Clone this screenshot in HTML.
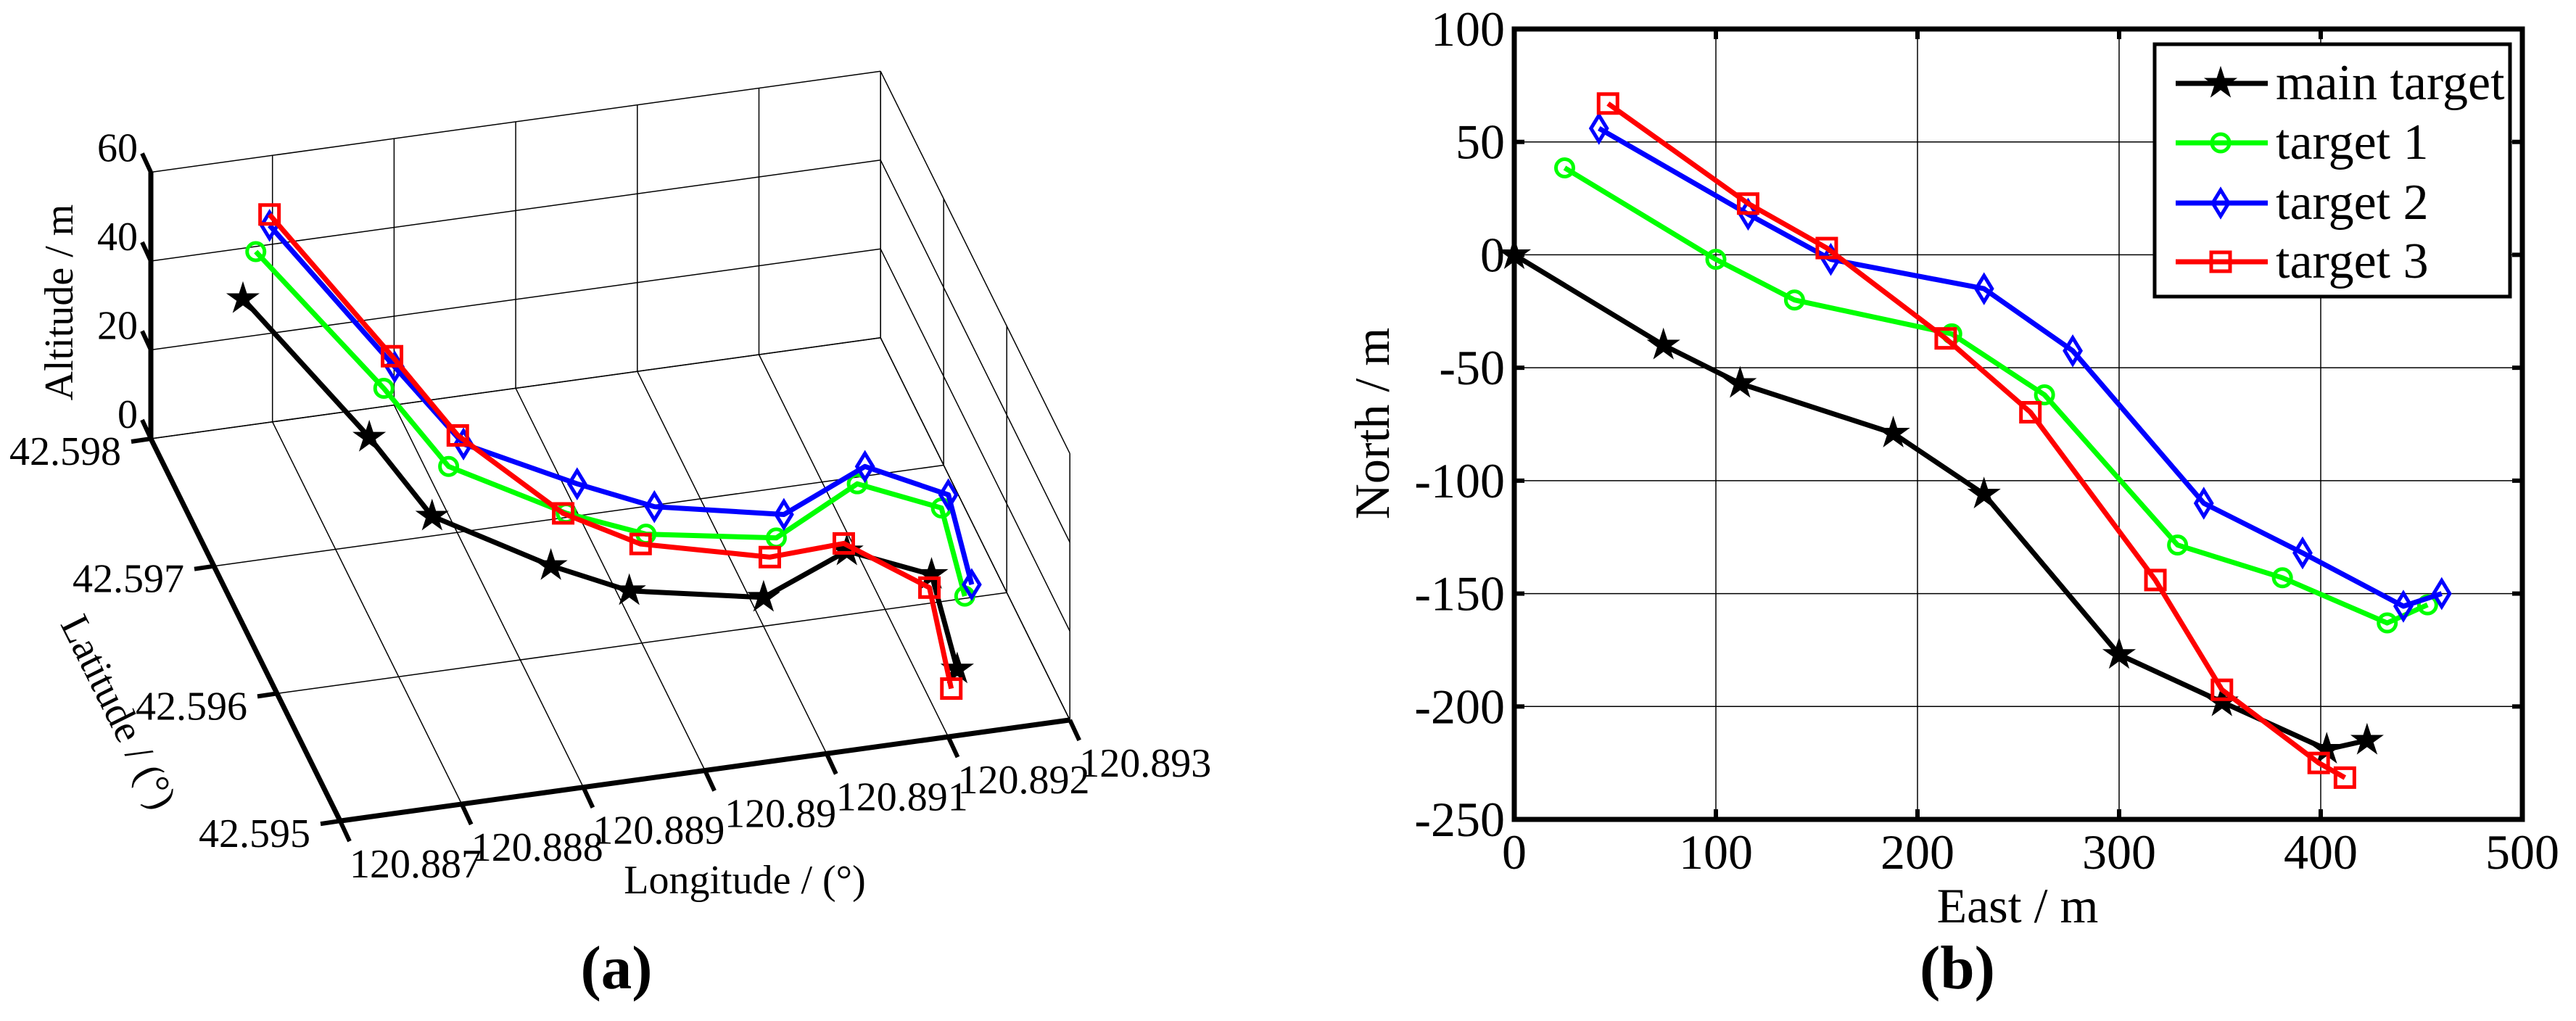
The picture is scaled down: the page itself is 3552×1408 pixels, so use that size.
<!DOCTYPE html>
<html><head><meta charset="utf-8"><style>
html,body{margin:0;padding:0;background:#fff;}
svg{display:block;}
svg text{font-family:"Liberation Serif","DejaVu Serif",serif;}
</style></head><body>
<svg id="fig" width="3552" height="1408" viewBox="0 0 3552 1408" xmlns="http://www.w3.org/2000/svg" font-family="'Liberation Serif', 'DejaVu Serif', serif">
<rect x="0" y="0" width="3552" height="1408" fill="#fff"/>
<g id="chartA"></g>
<g id="chartB"></g>
</svg>
<script>
// ---- data (shared tracks) ----
const seriesNames = ["main target","target 1","target 2","target 3"];
const eastMain = [0,74,112,188,233,300,351,403,423];
const northMain = [0,-40,-57,-79,-106,-177,-198,-219,-215];
const altMain = [50.1,26.1,11.1,2.4,1.8,15.9,29.6,27.5,4.3];
const eastT1 = [25,100,139,217,263,329,381,433,453];
const northT1 = [38.5,-2,-20,-35,-62,-128.5,-143,-163,-155];
const altT1 = [49.6,26.1,11.5,1.5,1.8,15.4,29.1,26.6,3.8];
const eastT2 = [42,116,157,233,277,342,391,441,460];
const northT2 = [56,18,-2,-15,-42.5,-110,-132,-155.6,-150];
const altT2 = [50.2,25,11.1,2.2,2.3,15.3,29.7,27.3,4.8];
const eastT3 = [46.5,116,155,214,256,318,351,399,412];
const northT3 = [67,22.7,3,-37,-69.7,-144,-192.6,-225,-231.5];
const altT3 = [49.6,26.2,11.8,2.1,1.9,15.6,29.9,26.3,4.7];
const xTicksB = [0,100,200,300,400,500];
const yTicksB = [100,50,0,-50,-100,-150,-200,-250];
const lonTicks = [120.887,120.888,120.889,120.89,120.891,120.892,120.893];
const latTicks = [42.598,42.597,42.596,42.595];
const altTicks = [0,20,40,60];
const LON0 = 120.887394, LAT0 = 42.5973;

const NS="http://www.w3.org/2000/svg";
const FF="'Liberation Serif', 'DejaVu Serif', serif";
function mk(tag, attrs, parent){const e=document.createElementNS(NS,tag);for(const k in attrs)e.setAttribute(k,attrs[k]);parent.appendChild(e);return e;}
const colors=["#000000","#00ff00","#0000ff","#ff0000"];
const markers=["star","circle","diamond","square"];
function marker(g,type,x,y,color){
  let e;
  if(type==="star"){
    let pts=[];for(let i=0;i<10;i++){const r=i%2?8:21;const a=-Math.PI/2+i*Math.PI/5;pts.push((x+r*Math.cos(a)).toFixed(1)+","+(y+r*Math.sin(a)).toFixed(1));}
    e=mk("polygon",{points:pts.join(" "),fill:color,stroke:color,"stroke-width":2},g);
  }else if(type==="circle"){
    e=mk("circle",{cx:x,cy:y,r:12,fill:"none",stroke:color,"stroke-width":5},g);
  }else if(type==="diamond"){
    e=mk("polygon",{points:`${x},${y-18} ${x+11},${y} ${x},${y+18} ${x-11},${y}`,fill:"none",stroke:color,"stroke-width":5},g);
  }else{
    e=mk("rect",{x:x-13,y:y-13,width:26,height:26,fill:"none",stroke:color,"stroke-width":5},g);
  }
  
  
  return e;
}
function text(g,str,x,y,size,anchor,extra){const t=mk("text",Object.assign({x:x,y:y,"font-size":size,"font-family":FF,"text-anchor":anchor||"middle",fill:"#000"},extra||{}),g);t.textContent=str;return t;}

const east=[eastMain,eastT1,eastT2,eastT3], north=[northMain,northT1,northT2,northT3], alt=[altMain,altT1,altT2,altT3];

// ---------- Chart B ----------
const B=document.getElementById("chartB");
const bx0=2088,bx1=3478,by0=40,by1=1130;
function xB(v){return bx0+(v-0)/500*(bx1-bx0);}
function yB(v){return by0+(100-v)/350*(by1-by0);}
xTicksB.forEach(v=>{const l=mk("line",{x1:xB(v),y1:by0,x2:xB(v),y2:by1,stroke:"#000","stroke-width":1.5},B);
  
  const t=text(B,String(v),xB(v),1198,68);
  mk("line",{x1:xB(v),y1:by1,x2:xB(v),y2:by1-14,stroke:"#000","stroke-width":6},B);
  mk("line",{x1:xB(v),y1:by0,x2:xB(v),y2:by0+14,stroke:"#000","stroke-width":6},B);});
yTicksB.forEach(v=>{const l=mk("line",{x1:bx0,y1:yB(v),x2:bx1,y2:yB(v),stroke:"#000","stroke-width":1.5},B);
  
  const t=text(B,String(v),2075,yB(v)+23,68,"end");
  mk("line",{x1:bx0,y1:yB(v),x2:bx0+14,y2:yB(v),stroke:"#000","stroke-width":6},B);
  mk("line",{x1:bx1,y1:yB(v),x2:bx1-14,y2:yB(v),stroke:"#000","stroke-width":6},B);});
for(let s=0;s<4;s++){
  const g=mk("g",{},B);
  const pts=east[s].map((e,i)=>xB(e).toFixed(1)+","+yB(north[s][i]).toFixed(1)).join(" ");
  const pl=mk("polyline",{points:pts,fill:"none",stroke:colors[s],"stroke-width":7,"stroke-linejoin":"round"},g);
  
  east[s].forEach((e,i)=>marker(g,markers[s],xB(e),yB(north[s][i]),colors[s]));
}
const frame=mk("rect",{x:bx0,y:by0,width:bx1-bx0,height:by1-by0,fill:"none",stroke:"#000","stroke-width":7},B);

let t;
t=text(B,"East / m",2782,1272,68);
t=text(B,"North / m",0,0,68,"middle",{transform:"translate(1915,584) rotate(-90)"});
t=text(B,"(b)",2699,1363,85,"middle",{"font-weight":"bold"});
// legend
const lg=mk("g",{},B);
mk("rect",{x:2971,y:61,width:490,height:348,fill:"#fff",stroke:"#000","stroke-width":5},lg);
const legY=[115,197,280,361];
for(let s=0;s<4;s++){
  const eg=mk("g",{},lg);
  mk("line",{x1:3000,y1:legY[s],x2:3127,y2:legY[s],stroke:colors[s],"stroke-width":7},eg);
  marker(eg,markers[s],3062,legY[s],colors[s]);
  text(eg,seriesNames[s],3138,legY[s]+22,70,"start");
}

// ---------- Chart A (3D) ----------
const A=document.getElementById("chartA");
function proj(lon,lat,al){const L=(lon-120.887)/0.001, Q=(lat-42.598)/0.001;
  return [208+167.7*L-87*Q, 605-23.2*L-175.7*Q-6.125*al];}
function lonOf(e){return LON0+e/87030;}
function latOf(n){return LAT0+n/110130;}
function seg(g,p,q,w,name){const l=mk("line",{x1:p[0].toFixed(1),y1:p[1].toFixed(1),x2:q[0].toFixed(1),y2:q[1].toFixed(1),stroke:"#000","stroke-width":w,"stroke-linecap":"butt"},g);
  return l;}
const latMin=42.595,latMax=42.598,lonMin=120.887,lonMax=120.893,altMax=60;
const grid=mk("g",{},A);
lonTicks.forEach(lo=>{seg(grid,proj(lo,latMax,0),proj(lo,latMax,altMax),1.5,'back-wall-gridline');
  seg(grid,proj(lo,latMin,0),proj(lo,latMax,0),1.5,'floor-gridline');});
altTicks.forEach(a=>{seg(grid,proj(lonMin,latMax,a),proj(lonMax,latMax,a),1.5,'back-wall-gridline');
  seg(grid,proj(lonMax,latMax,a),proj(lonMax,latMin,a),1.5,'side-wall-gridline');});
latTicks.forEach(la=>{seg(grid,proj(lonMax,la,0),proj(lonMax,la,altMax),1.5,'side-wall-gridline');
  seg(grid,proj(lonMin,la,0),proj(lonMax,la,0),1.5,'floor-gridline');});
// axes
const ax=mk("g",{},A);
seg(ax,proj(lonMin,latMax,0),proj(lonMin,latMax,altMax),7,'altitude-axis');
seg(ax,proj(lonMin,latMax,0),proj(lonMin,latMin,0),7,'latitude-axis');
seg(ax,proj(lonMin,latMin,0),proj(lonMax,latMin,0),7,'longitude-axis');
altTicks.forEach(a=>{const p=proj(lonMin,latMax,a);seg(ax,p,[p[0]-12,p[1]-26],6,'altitude-tick');
  const tt=text(A,String(a),190,p[1]-15,56,"end");});
latTicks.forEach((la,i)=>{const p=proj(lonMin,la,0);seg(ax,p,[p[0]-27,p[1]+4],6,'latitude-tick');
  const tt=text(A,String(la),p[0]-118, p[1]+36,56,"middle");
  });
lonTicks.forEach((lo,i)=>{const p=proj(lo,latMin,0);seg(ax,p,[p[0]+13,p[1]+28],6,'longitude-tick');
  const tt=text(A,String(lo),p[0]+104,p[1]+78,56,"middle");
  });
t=text(A,"Longitude / (°)",1027,1232,56);
t=text(A,"Latitude / (°)",0,0,56,"middle",{transform:"translate(147,990) rotate(63.6)"});
t=text(A,"Altitude / m",0,0,56,"middle",{transform:"translate(100,417) rotate(-90)"});
t=text(A,"(a)",850,1363,85,"middle",{"font-weight":"bold"});
for(let s=0;s<4;s++){
  const g=mk("g",{},A);
  const P=east[s].map((e,i)=>proj(lonOf(e),latOf(north[s][i]),alt[s][i]));
  const pl=mk("polyline",{points:P.map(p=>p[0].toFixed(1)+","+p[1].toFixed(1)).join(" "),fill:"none",stroke:colors[s],"stroke-width":7,"stroke-linejoin":"round"},g);
  
  P.forEach(p=>marker(g,markers[s],p[0],p[1],colors[s]));
}
</script>
</body></html>
